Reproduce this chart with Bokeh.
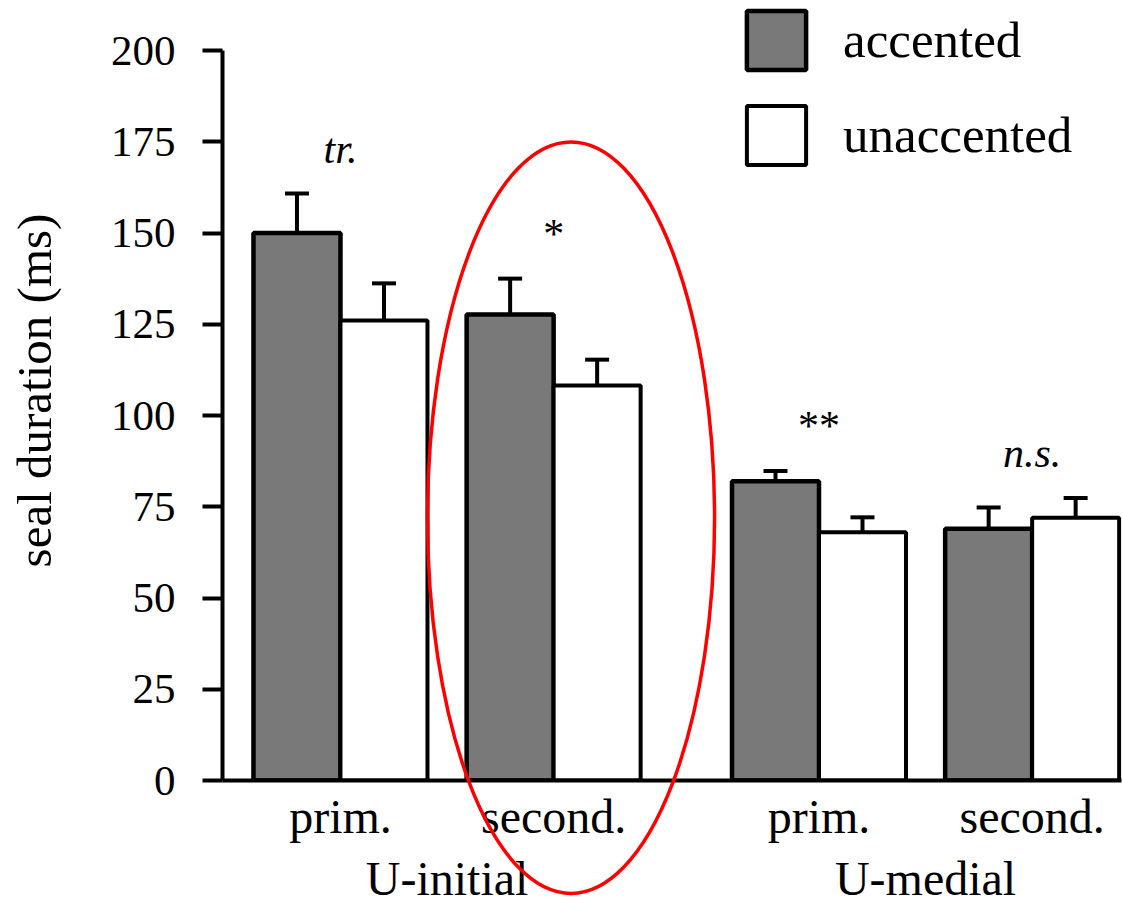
from bokeh.plotting import figure
from bokeh.models import (ColumnDataSource, Range1d, FixedTicker, LabelSet, Whisker,
                          TeeHead, Legend, LegendItem, LinearAxis)
from bokeh.embed import file_html
from bokeh.resources import INLINE

# ---- data ----
groups = ["U-initial", "U-initial", "U-medial", "U-medial"]
subgroups = ["prim.", "second.", "prim.", "second."]
accented = [150.0, 127.7, 82.0, 69.0]
accented_se = [10.8, 9.8, 2.8, 5.8]
unaccented = [126.0, 108.2, 68.0, 72.0]
unaccented_se = [10.2, 7.1, 4.1, 5.4]
significance = ["tr.", "*", "**", "n.s."]
sig_italic = [True, False, False, True]
y_ticks = [0, 25, 50, 75, 100, 125, 150, 175, 200]

FONT = "Liberation Serif"
GRAY = "#797979"

# ---- layout of categories (bar width = 1 unit) ----
GROUP_STEP = 5.5
SUB_STEP = 2.45
uniq_groups = list(dict.fromkeys(groups))
centers = []
sub_counter = {}
for g in groups:
    gi = uniq_groups.index(g)
    si = sub_counter.get(g, 0)
    sub_counter[g] = si + 1
    centers.append(gi * GROUP_STEP + si * SUB_STEP)
acc_x = [c - 0.5 for c in centers]
una_x = [c + 0.5 for c in centers]
group_centers = []
for g in uniq_groups:
    cs = [c for c, gg in zip(centers, groups) if gg == g]
    group_centers.append(sum(cs) / len(cs))

p = figure(width=1123, height=907, output_backend="svg", toolbar_location=None,
           x_range=Range1d(-1.356, 8.977), y_range=Range1d(0, 200 * 780 / 730),
           min_border_left=222, min_border_right=2, min_border_top=0,
           min_border_bottom=127, title=None)
p.outline_line_color = None
p.xgrid.visible = False
p.ygrid.visible = False
p.background_fill_color = "white"

acc_src = ColumnDataSource(dict(x=acc_x, top=accented, hi=[m + s for m, s in zip(accented, accented_se)]))
una_src = ColumnDataSource(dict(x=una_x, top=unaccented, hi=[m + s for m, s in zip(unaccented, unaccented_se)]))

r_acc = p.vbar(x="x", top="top", bottom=0, width=1.0, source=acc_src,
               fill_color=GRAY, line_color="black", line_width=4.5)
r_una = p.vbar(x="x", top="top", bottom=0, width=1.0, source=una_src,
               fill_color="white", line_color="black", line_width=4)

for src in (acc_src, una_src):
    w = Whisker(base="x", lower="top", upper="hi", source=src, line_color="black", line_width=4,
                upper_head=TeeHead(size=24, line_width=4, line_color="black"), lower_head=None)
    p.add_layout(w)

# y axis
p.yaxis.ticker = FixedTicker(ticks=y_ticks)
p.yaxis.bounds = (0, 200)
p.yaxis.axis_line_width = 4
p.yaxis.major_tick_line_width = 4
p.yaxis.major_tick_out = 20
p.yaxis.major_tick_in = 0
p.yaxis.minor_tick_line_color = None
p.yaxis.major_label_text_font = FONT
p.yaxis.major_label_text_font_size = "43px"
p.yaxis.major_label_text_color = "black"
p.yaxis.major_label_standoff = 27
p.yaxis.axis_label = "seal duration (ms)"
p.yaxis.axis_label_text_font = FONT
p.yaxis.axis_label_text_font_size = "49px"
p.yaxis.axis_label_text_font_style = "normal"
p.yaxis.axis_label_text_color = "black"
p.yaxis.axis_label_standoff = 46

# x axis: sub-category labels
xa = p.xaxis[0]
xa.ticker = FixedTicker(ticks=centers)
xa.major_label_overrides = {c: s for c, s in zip(centers, subgroups)}
xa.axis_line_width = 4
xa.major_tick_line_color = None
xa.major_tick_out = 0
xa.major_tick_in = 0
xa.minor_tick_line_color = None
xa.major_label_text_font = FONT
xa.major_label_text_font_size = "48px"
xa.major_label_text_color = "black"
xa.major_label_standoff = 9

# second x axis: group labels
xg = LinearAxis(ticker=FixedTicker(ticks=group_centers),
                major_label_overrides={c: g for c, g in zip(group_centers, uniq_groups)},
                axis_line_color=None, major_tick_line_color=None, minor_tick_line_color=None,
                major_tick_out=0, major_tick_in=0,
                major_label_text_font=FONT, major_label_text_font_size="48px",
                major_label_text_color="black", major_label_standoff=6)
p.add_layout(xg, "below")

# significance labels above each pair
sig_top = [max(a + sa, u + su) for a, sa, u, su in zip(accented, accented_se, unaccented, unaccented_se)]
for italic in (True, False):
    idx = [i for i in range(len(significance)) if sig_italic[i] == italic]
    s = ColumnDataSource(dict(x=[centers[i] for i in idx], y=[sig_top[i] for i in idx],
                              t=[significance[i] for i in idx]))
    p.add_layout(LabelSet(x="x", y="y", text="t", source=s, y_offset=31,
                          text_align="center", text_baseline="alphabetic",
                          text_font=FONT, text_font_size="42px",
                          text_font_style="italic" if italic else "normal", text_color="black"))

# red ellipse highlighting U-initial secondary
hl = subgroups.index("second.")
e = p.ellipse(x=[centers[hl] + 0.2], y=[72], width=[3.3], height=[206],
              fill_color=None, line_color="red", line_width=3.5)
e.level = "overlay"

legend = Legend(items=[LegendItem(label="accented", renderers=[r_acc]),
                       LegendItem(label="unaccented", renderers=[r_una])],
                location=(517, 608))
legend.glyph_width = 74
legend.glyph_height = 74
legend.label_standoff = 30
legend.spacing = 21
legend.padding = 0
legend.margin = 0
legend.border_line_color = None
legend.background_fill_alpha = 0
legend.label_text_font = FONT
legend.label_text_font_size = "51px"
legend.label_text_color = "black"
legend.label_height = 74
p.add_layout(legend)

open("out.html", "w").write(file_html(p, INLINE))
